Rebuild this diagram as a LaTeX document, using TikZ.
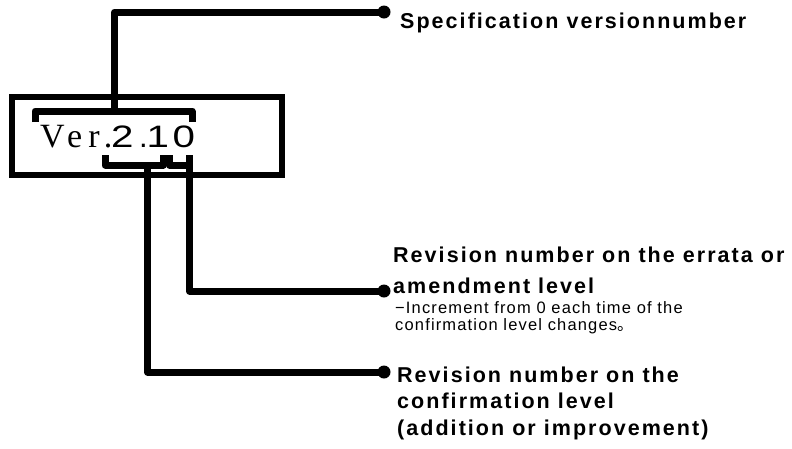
\documentclass[tikz,border=0pt]{standalone}
\usepackage{fontspec}
\newfontfamily\labf{Liberation Sans}[LetterSpace=9.5]
\newfontfamily\smallf{Liberation Sans}[LetterSpace=7]
\newfontfamily\verf{Liberation Serif}[LetterSpace=18]
\newfontfamily\digf{Liberation Sans}
\newfontfamily\cjk{Noto Sans CJK JP}
\newcommand{\wdig}[1]{\scalebox{1.3}[1]{#1}}
\begin{document}
\begin{tikzpicture}[x=1pt,y=-1pt,
  lead/.style={line width=7pt, line join=round},
  boxst/.style={draw, line width=6pt, minimum width=270pt, minimum height=78pt, inner sep=0pt},
  big/.style={anchor=base west, inner sep=0pt, font=\labf\bfseries\fontsize{21.5}{24}\selectfont},
  small/.style={anchor=base west, inner sep=0pt, font=\smallf\fontsize{16.5}{18}\selectfont}]
\useasboundingbox (0,0) rectangle (792,448);
% box
\node[boxst] (box) at (147,136) {};
\node[anchor=base west, inner sep=0pt] (ver) at (40,147)
  {\makebox[71pt][l]{\fontsize{34}{36}\selectfont\verf Ver.}%
   \fontsize{31}{36}\selectfont\digf
   \makebox[28pt][l]{\wdig{2}}\makebox[7.4pt][l]{.}\makebox[26pt][l]{\wdig{1}}\wdig{0}};
% brackets
\coordinate (tb) at (114.5,111);
\draw[lead] (35,122) -- (35,111) -- (192,111) -- (192,122);
\coordinate (lb) at (147.5,165);
\draw[lead] (105,155) -- (105,165) -- (163,165) -- (163,155);
\coordinate (rb) at (189.5,155);
\draw[lead] (169.5,155) -- (169.5,165) -- (189.5,165);
% dots
\coordinate (d1) at (384,12);
\coordinate (d2) at (384,291);
\coordinate (d3) at (384,372);
\fill (d1) circle (6.5pt);
\fill (d2) circle (6.5pt);
\fill (d3) circle (6.5pt);
% connectors
\draw[lead] (tb) |- (d1);
\draw[lead] (rb) |- (d2);
\draw[lead] (lb) |- (d3);
% texts
\node[big] (spec) at (400,28) {Specification versionnumber};
\node[big] (er1) at (393,262) {Revision number on the errata or};
\node[big] (er2) at (393,293) {amendment level};
\node[small] (inc1) at (395,313) {−Increment from 0 each time of the};
\node[small] (inc2) at (395,330) {confirmation level changes{\cjk 。}};
\node[big] (cf1) at (397,382) {Revision number on the};
\node[big] (cf2) at (397,408) {confirmation level};
\node[big] (cf3) at (397,435) {(addition or improvement)};
\end{tikzpicture}
\end{document}
